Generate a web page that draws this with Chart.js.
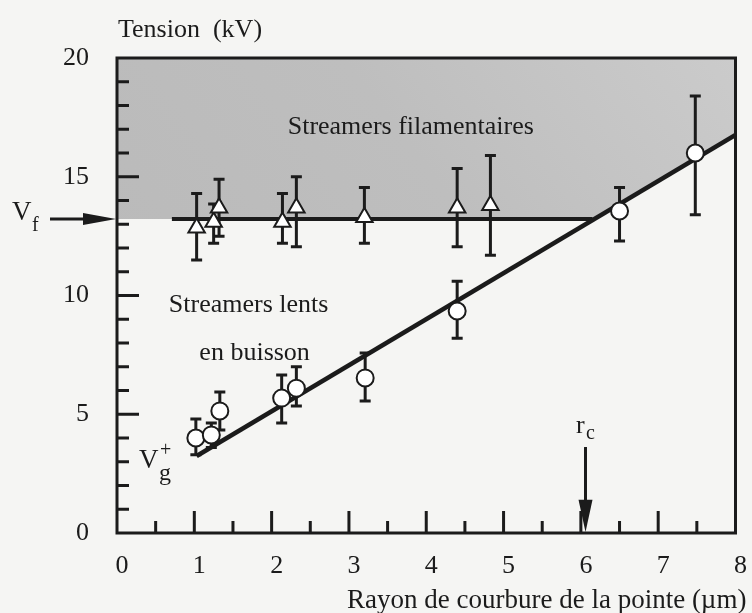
<!DOCTYPE html>
<html>
<head>
<meta charset="utf-8">
<script src="https://cdn.jsdelivr.net/npm/chart.js@4.4.0/dist/chart.umd.min.js"></script>
<style>
  html, body { margin: 0; padding: 0; background: #f5f5f3; }
</style>
</head>
<body>
<canvas id="myChart" width="752" height="613"></canvas>
<script>
// filamentary streamers (triangles): radius in µm, voltage in kV
const triX    = [1.03, 1.25, 1.32, 2.14, 2.32, 3.20, 4.40, 4.83];
const triY    = [12.85, 13.1, 13.7, 13.1, 13.7, 13.3, 13.7, 13.8];
const triLow  = [11.5, 12.2, 12.5, 12.2, 12.05, 12.2, 12.05, 11.7];
const triHigh = [14.3, 13.85, 14.9, 14.3, 15.0, 14.55, 15.35, 15.9];

// slow bushy streamers (circles)
const cirX    = [1.02, 1.22, 1.33, 2.13, 2.32, 3.21, 4.40, 6.50, 7.48];
const cirY    = [4.0, 4.13, 5.14, 5.68, 6.1, 6.53, 9.35, 13.56, 16.0];
const cirLow  = [3.3, 3.6, 4.34, 4.63, 5.35, 5.56, 8.2, 12.3, 13.4];
const cirHigh = [4.8, 4.63, 5.94, 6.65, 7.0, 7.58, 10.6, 14.55, 18.4];

// Vf threshold line, Vg+ fit line, shaded zone edge
const vfX   = [0.71, 6.15];
const vfY   = [13.22, 13.22];
const fitX  = [1.03, 8];
const fitY  = [3.24, 16.76];
const zoneX = [0, 6.15, 8];
const zoneY = [13.22, 13.22, 16.76];
const rcX = 6.06;

const xTickValues = [0, 1, 2, 3, 4, 5, 6, 7, 8];
const yTickValues = [0, 5, 10, 15, 20];

const SERIF = '"Liberation Serif", "Times New Roman", serif';
const INK = '#1b1b1b';

const pts = (xs, ys) => xs.map((x, i) => ({ x: x, y: ys[i] }));

// background, error bars, frame, inward ticks and annotations
const figure = {
    id: 'figure',
    beforeDraw(chart) {
        const ctx = chart.ctx;
        ctx.save();
        ctx.fillStyle = '#f5f5f3';
        ctx.fillRect(0, 0, chart.width, chart.height);
        ctx.restore();
    },
    beforeDatasetDraw(chart, args) {
        const ds = chart.data.datasets[args.index];
        if (!ds.errLow) return;
        const ctx = chart.ctx, xs = chart.scales.x, ys = chart.scales.y;
        ctx.save();
        ctx.strokeStyle = INK;
        ctx.lineWidth = 3;
        ds.data.forEach((p, i) => {
            const px = xs.getPixelForValue(p.x);
            const lo = ys.getPixelForValue(ds.errLow[i]);
            const hi = ys.getPixelForValue(ds.errHigh[i]);
            ctx.beginPath();
            ctx.moveTo(px, lo); ctx.lineTo(px, hi);
            ctx.moveTo(px - 5.5, lo); ctx.lineTo(px + 5.5, lo);
            ctx.moveTo(px - 5.5, hi); ctx.lineTo(px + 5.5, hi);
            ctx.stroke();
        });
        ctx.restore();
    },
    afterDraw(chart) {
        const ctx = chart.ctx, a = chart.chartArea;
        const xs = chart.scales.x, ys = chart.scales.y;
        ctx.save();
        ctx.strokeStyle = INK;
        ctx.fillStyle = INK;

        // frame
        ctx.lineWidth = 3;
        ctx.strokeRect(a.left, a.top, a.right - a.left, a.bottom - a.top);

        // inward ticks
        ctx.beginPath();
        for (let v = 0.5; v < 8; v += 0.5) {
            const px = xs.getPixelForValue(v);
            const len = Number.isInteger(v) ? 22 : 12;
            ctx.moveTo(px, a.bottom); ctx.lineTo(px, a.bottom - len);
        }
        for (let v = 1; v < 20; v += 1) {
            const py = ys.getPixelForValue(v);
            const len = v % 5 === 0 ? 22 : 12;
            ctx.moveTo(a.left, py); ctx.lineTo(a.left + len, py);
        }
        ctx.stroke();

        // Vf arrow
        const vfPix = ys.getPixelForValue(vfY[0]);
        ctx.beginPath();
        ctx.moveTo(50, vfPix); ctx.lineTo(90, vfPix);
        ctx.stroke();
        ctx.beginPath();
        ctx.moveTo(a.left - 1, vfPix);
        ctx.lineTo(83, vfPix - 6);
        ctx.lineTo(83, vfPix + 6);
        ctx.closePath();
        ctx.fill();

        // rc arrow
        const rcPix = xs.getPixelForValue(rcX);
        ctx.beginPath();
        ctx.moveTo(rcPix, ys.getPixelForValue(3.62));
        ctx.lineTo(rcPix, ys.getPixelForValue(1.2));
        ctx.stroke();
        ctx.beginPath();
        ctx.moveTo(rcPix, a.bottom - 1);
        ctx.lineTo(rcPix - 7, ys.getPixelForValue(1.4));
        ctx.lineTo(rcPix + 7, ys.getPixelForValue(1.4));
        ctx.closePath();
        ctx.fill();

        // texts
        ctx.textBaseline = 'alphabetic';
        ctx.textAlign = 'left';
        ctx.font = '26px ' + SERIF;
        ctx.fillText('Tension  (kV)', 118, 37);
        ctx.font = '27px ' + SERIF;
        ctx.fillText('Rayon de courbure de la pointe (µm)', 347, 608);

        ctx.font = '26px ' + SERIF;
        ctx.textAlign = 'center';
        ctx.fillText('Streamers filamentaires', xs.getPixelForValue(3.8), ys.getPixelForValue(16.8));
        ctx.fillText('en buisson', xs.getPixelForValue(1.78), ys.getPixelForValue(7.3));
        ctx.textAlign = 'left';
        ctx.fillText('Streamers lents', xs.getPixelForValue(0.67), ys.getPixelForValue(9.3));

        // V_f
        ctx.font = '27px ' + SERIF;
        ctx.fillText('V', 12, 220);
        ctx.font = '20px ' + SERIF;
        ctx.fillText('f', 32, 231);

        // V_g^+
        ctx.font = '27px ' + SERIF;
        ctx.fillText('V', 139, 468);
        ctx.font = '20px ' + SERIF;
        ctx.fillText('+', 160, 456);
        ctx.font = '24px ' + SERIF;
        ctx.fillText('g', 159, 480);

        // r_c
        ctx.font = '26px ' + SERIF;
        ctx.fillText('r', 576, 433);
        ctx.font = '20px ' + SERIF;
        ctx.fillText('c', 586, 439);

        ctx.restore();
    }
};

const ctx = document.getElementById('myChart').getContext('2d');
const myChart = new Chart(ctx, {
    type: 'scatter',
    data: {
        datasets: [
            {
                // shaded zone of filamentary streamers
                data: pts(zoneX, zoneY),
                showLine: true,
                fill: 'end',
                borderWidth: 0,
                pointRadius: 0,
                backgroundColor: (c) => {
                    const area = c.chart.chartArea;
                    if (!area) return '#bfbfbf';
                    const g = c.chart.ctx.createLinearGradient(area.left, area.bottom, area.right, area.top);
                    g.addColorStop(0, '#b8b8b8');
                    g.addColorStop(0.6, '#bebebe');
                    g.addColorStop(1, '#cbcbcb');
                    return g;
                },
                order: 5
            },
            {
                data: pts(vfX, vfY),
                showLine: true,
                borderColor: INK,
                borderWidth: 4,
                pointRadius: 0,
                order: 4
            },
            {
                data: pts(fitX, fitY),
                showLine: true,
                borderColor: INK,
                borderWidth: 4.5,
                pointRadius: 0,
                order: 3
            },
            {
                data: pts(cirX, cirY),
                errLow: cirLow,
                errHigh: cirHigh,
                pointStyle: 'circle',
                pointRadius: 8.5,
                backgroundColor: '#ffffff',
                borderColor: INK,
                borderWidth: 2,
                order: 2
            },
            {
                data: pts(triX, triY),
                errLow: triLow,
                errHigh: triHigh,
                pointStyle: 'triangle',
                pointRadius: 9.5,
                backgroundColor: '#ffffff',
                borderColor: INK,
                borderWidth: 2,
                order: 1
            }
        ]
    },
    options: {
        responsive: false,
        animation: false,
        layout: { padding: { top: 58, right: 12, left: 0, bottom: 0 } },
        plugins: {
            legend: { display: false },
            tooltip: { enabled: false }
        },
        scales: {
            x: {
                type: 'linear',
                min: 0,
                max: 8,
                grid: { display: false },
                border: { display: false },
                afterBuildTicks: s => { s.ticks = xTickValues.map(v => ({ value: v })); },
                afterFit: s => { s.height = 80; },
                ticks: {
                    font: { family: SERIF, size: 26 },
                    color: INK,
                    padding: 10,
                    labelOffset: 5,
                    maxRotation: 0,
                    autoSkip: false
                }
            },
            y: {
                min: 0,
                max: 20,
                grid: { display: false },
                border: { display: false },
                afterBuildTicks: s => { s.ticks = yTickValues.map(v => ({ value: v })); },
                afterFit: s => { s.width = 117; },
                ticks: {
                    font: { family: SERIF, size: 26 },
                    color: INK,
                    padding: 20,
                    autoSkip: false
                }
            }
        }
    },
    plugins: [figure]
});
</script>
</body>
</html>
